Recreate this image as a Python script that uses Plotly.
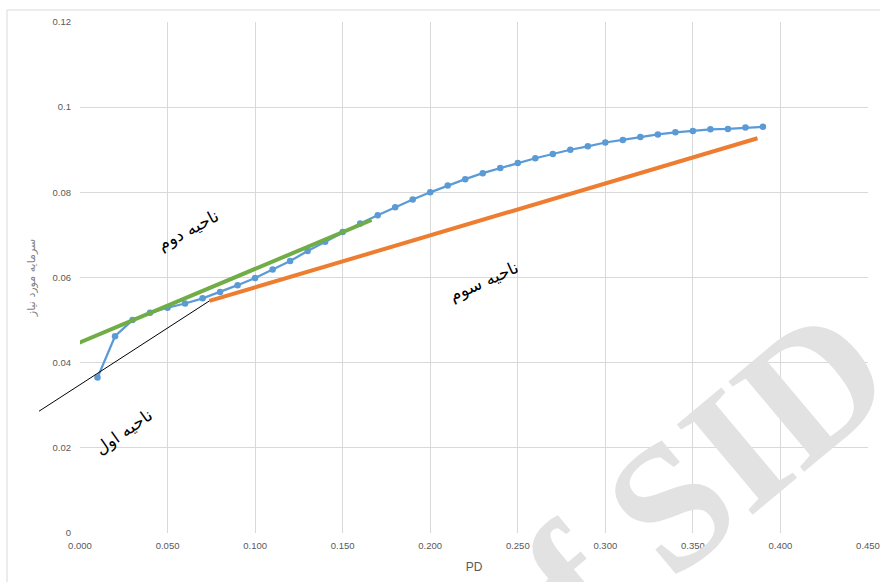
import plotly.graph_objects as go

# Required capital versus probability of default (PD)
pd_values = [0.01, 0.02, 0.03, 0.04, 0.05, 0.06, 0.07, 0.08, 0.09, 0.10,
             0.11, 0.12, 0.13, 0.14, 0.15, 0.16, 0.17, 0.18, 0.19, 0.20,
             0.21, 0.22, 0.23, 0.24, 0.25, 0.26, 0.27, 0.28, 0.29, 0.30,
             0.31, 0.32, 0.33, 0.34, 0.35, 0.36, 0.37, 0.38, 0.39]
capital = [0.0365, 0.0462, 0.0500, 0.0517, 0.0529, 0.0539, 0.0551, 0.0566, 0.0582, 0.0599,
           0.0619, 0.0639, 0.0662, 0.0684, 0.0707, 0.0727, 0.0746, 0.0765, 0.0783, 0.0800,
           0.0816, 0.0831, 0.0845, 0.0857, 0.0869, 0.0880, 0.0890, 0.0900, 0.0908, 0.0917,
           0.0923, 0.0930, 0.0936, 0.0941, 0.0944, 0.0948, 0.0949, 0.0952, 0.0954]

# Linear segments marking the three regions
region1_x = [-0.0234, 0.0739]
region1_y = [0.0286, 0.0545]
region2_x = [-0.0026, 0.1665]
region2_y = [0.0443, 0.0735]
region3_x = [0.0739, 0.3869]
region3_y = [0.0545, 0.0927]

region_labels = ["ناحیه اول", "ناحیه دوم", "ناحیه سوم"]

x_range = [0.0, 0.45]
y_ticks = [0, 0.02, 0.04, 0.06, 0.08, 0.10, 0.12]
y_tick_text = ["0", "0.02", "0.04", "0.06", "0.08", "0.1", "0.12"]

W, H = 880, 582
ML, MR, MT, MB = 80, 12, 22, 49
plot_w = W - ML - MR
plot_h = H - MT - MB


def px_to_paper(px, py):
    """Pixel position on the page -> paper coordinates."""
    return (px - ML) / plot_w, (H - MB - py) / plot_h


fig = go.Figure()

fig.add_trace(go.Scatter(
    x=pd_values, y=capital, mode="lines+markers",
    line=dict(color="#5b9bd5", width=2.25),
    marker=dict(color="#5b9bd5", size=6.5),
    showlegend=False,
))
fig.add_trace(go.Scatter(
    x=region2_x, y=region2_y, mode="lines",
    line=dict(color="#70ad47", width=4), showlegend=False,
))
fig.add_trace(go.Scatter(
    x=region3_x, y=region3_y, mode="lines",
    line=dict(color="#ed7d31", width=4), showlegend=False,
))


# Region-one tangent runs past the y axis, so place x in paper units
def to_paper_x(v):
    return (v - x_range[0]) / (x_range[1] - x_range[0])


fig.add_shape(type="line", xref="paper", yref="y",
              x0=to_paper_x(region1_x[0]), y0=region1_y[0],
              x1=to_paper_x(region1_x[1]), y1=region1_y[1],
              line=dict(color="black", width=1))

# Chart-area border
bx0, by0 = px_to_paper(7, 10)
bx1, by1 = px_to_paper(W + 10, H + 10)
fig.add_shape(type="rect", xref="paper", yref="paper",
              x0=bx0, x1=bx1, y0=by1, y1=by0,
              line=dict(color="#d9d9d9", width=1), layer="below")

label_font = dict(family="DejaVu Sans", size=17, color="black")
for text, (px, py), ang in zip(region_labels,
                               [(123, 432), (188, 230), (484, 281)],
                               [-35, -28, -24]):
    ax, ay = px_to_paper(px, py)
    fig.add_annotation(text=text, xref="paper", yref="paper", x=ax, y=ay,
                       xanchor="center", yanchor="middle",
                       textangle=ang, showarrow=False, font=label_font)

# Watermark
wx, wy = px_to_paper(672, 503)
fig.add_annotation(text="<b>of SID</b>", xref="paper", yref="paper", x=wx, y=wy,
                   xanchor="center", yanchor="middle",
                   textangle=-40, showarrow=False,
                   font=dict(family="Liberation Serif", size=180, color="#e2e2e2"))

tick_font = dict(family="Liberation Sans", size=9.5, color="#595959")
fig.update_xaxes(
    range=x_range, dtick=0.05, tick0=0, tickformat=".3f",
    showgrid=True, gridcolor="#d9d9d9", gridwidth=1, zeroline=False,
    showline=False, ticks="", tickfont=tick_font, automargin=False,
    ticklabelstandoff=5,
    title=dict(text="PD", font=dict(family="Liberation Sans", size=12, color="#595959"),
               standoff=13),
)
fig.update_yaxes(
    range=[0, 0.12], tickvals=y_ticks, ticktext=y_tick_text,
    showgrid=True, gridcolor="#d9d9d9", gridwidth=1, zeroline=False,
    showline=False, ticks="", tickfont=tick_font, automargin=False,
    ticklabelstandoff=8,
    title=dict(text="سرمایه مورد نیاز",
               font=dict(family="DejaVu Sans", size=11, color="#7f7f7f"),
               standoff=14),
)

fig.update_layout(
    width=W, height=H,
    margin=dict(l=ML, r=MR, t=MT, b=MB),
    paper_bgcolor="white", plot_bgcolor="white",
)

fig.write_html("out.html")
